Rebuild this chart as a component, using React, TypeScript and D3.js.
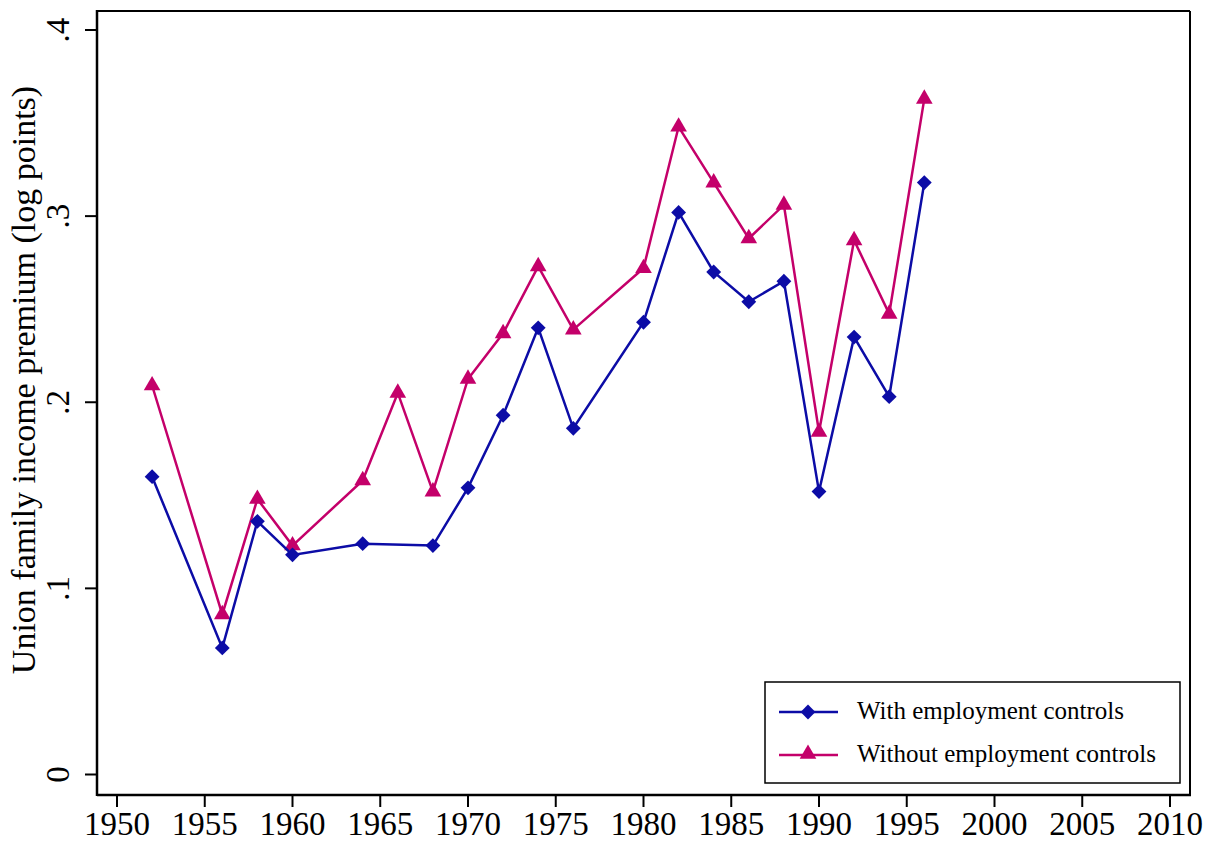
import React, { useRef, useEffect } from "react"
import * as d3 from "d3"

const withYears = [1952, 1956, 1958, 1960, 1964, 1968, 1970, 1972, 1974, 1976, 1980, 1982, 1984, 1986, 1988, 1990, 1992, 1994, 1996]
const withValues = [0.160, 0.068, 0.136, 0.118, 0.124, 0.123, 0.154, 0.193, 0.240, 0.186, 0.243, 0.302, 0.270, 0.254, 0.265, 0.152, 0.235, 0.203, 0.318]

const withoutYears = [1952, 1956, 1958, 1960, 1964, 1966, 1968, 1970, 1972, 1974, 1976, 1980, 1982, 1984, 1986, 1988, 1990, 1992, 1994, 1996]
const withoutValues = [0.209, 0.086, 0.148, 0.123, 0.158, 0.205, 0.152, 0.2125, 0.237, 0.273, 0.239, 0.272, 0.348, 0.318, 0.288, 0.306, 0.184, 0.287, 0.2475, 0.363]

const xTicks = [1950, 1955, 1960, 1965, 1970, 1975, 1980, 1985, 1990, 1995, 2000, 2005, 2010]
const yTicks = [0, 0.1, 0.2, 0.3, 0.4]
const yTickLabels = ["0", ".1", ".2", ".3", ".4"]

const seriesNames = ["With employment controls", "Without employment controls"]

const BLUE = "#0C0CA6"
const PINK = "#C4006A"
const FONT = "'Liberation Serif', 'Times New Roman', serif"

const W = 1205
const H = 841
const frame = { left: 97, top: 11, right: 1190, bottom: 795 }

function App() {
  const ref = useRef<SVGSVGElement>(null)

  useEffect(() => {
    const svg = d3.select(ref.current)
    svg.selectAll("*").remove()

    const x = d3.scaleLinear().domain([1950, 2010]).range([117, 1170])
    const y = d3.scaleLinear().domain([0, 0.4]).range([774.5, 30])

    // frame: thin top/right, heavier left/bottom axes
    svg.append("line")
      .attr("x1", frame.left).attr("x2", frame.right)
      .attr("y1", frame.top).attr("y2", frame.top)
      .attr("stroke", "#000").attr("stroke-width", 2)
    svg.append("line")
      .attr("x1", frame.right).attr("x2", frame.right)
      .attr("y1", frame.top).attr("y2", frame.bottom)
      .attr("stroke", "#000").attr("stroke-width", 2)

    // x axis
    const xg = svg.append("g")
    xg.append("line")
      .attr("x1", frame.left).attr("x2", frame.right + 1)
      .attr("y1", frame.bottom).attr("y2", frame.bottom)
      .attr("stroke", "#000").attr("stroke-width", 2.5)
    xg.selectAll("line.tick")
      .data(xTicks)
      .join("line")
      .attr("class", "tick")
      .attr("x1", d => x(d)).attr("x2", d => x(d))
      .attr("y1", frame.bottom).attr("y2", frame.bottom + 12)
      .attr("stroke", "#000").attr("stroke-width", 2)
    xg.selectAll("text")
      .data(xTicks)
      .join("text")
      .attr("x", d => x(d))
      .attr("y", 835)
      .attr("text-anchor", "middle")
      .style("font-family", FONT)
      .style("font-size", "33px")
      .text(d => d)

    // y axis
    const yg = svg.append("g")
    yg.append("line")
      .attr("x1", frame.left).attr("x2", frame.left)
      .attr("y1", frame.top - 1).attr("y2", frame.bottom + 1)
      .attr("stroke", "#000").attr("stroke-width", 2.5)
    yg.selectAll("line.tick")
      .data(yTicks)
      .join("line")
      .attr("class", "tick")
      .attr("x1", frame.left - 12).attr("x2", frame.left)
      .attr("y1", d => y(d)).attr("y2", d => y(d))
      .attr("stroke", "#000").attr("stroke-width", 2)
    yg.selectAll("text")
      .data(yTicks)
      .join("text")
      .attr("transform", d => `translate(69, ${y(d)}) rotate(-90)`)
      .attr("text-anchor", "middle")
      .style("font-family", FONT)
      .style("font-size", "33px")
      .text((d, i) => yTickLabels[i])

    svg.append("text")
      .attr("transform", `translate(35, ${380}) rotate(-90)`)
      .attr("text-anchor", "middle")
      .style("font-family", FONT)
      .style("font-size", "34px")
      .text("Union family income premium (log points)")

    const line = d3.line<[number, number]>()
      .x(d => x(d[0]))
      .y(d => y(d[1]))

    const withData: [number, number][] = withYears.map((yr, i) => [yr, withValues[i]])
    const withoutData: [number, number][] = withoutYears.map((yr, i) => [yr, withoutValues[i]])

    const diamond = d3.symbol().type(d3.symbolSquare).size(110)
    const triangle = d3.symbol().type(d3.symbolTriangle).size(120)

    const plot = svg.append("g")

    plot.append("path")
      .datum(withoutData)
      .attr("d", line)
      .attr("fill", "none")
      .attr("stroke", PINK)
      .attr("stroke-width", 2.5)
    plot.selectAll("path.tri")
      .data(withoutData)
      .join("path")
      .attr("class", "tri")
      .attr("d", triangle)
      .attr("transform", d => `translate(${x(d[0])}, ${y(d[1])})`)
      .attr("fill", PINK)

    plot.append("path")
      .datum(withData)
      .attr("d", line)
      .attr("fill", "none")
      .attr("stroke", BLUE)
      .attr("stroke-width", 2.5)
    plot.selectAll("path.dia")
      .data(withData)
      .join("path")
      .attr("class", "dia")
      .attr("d", diamond)
      .attr("transform", d => `translate(${x(d[0])}, ${y(d[1])}) rotate(45)`)
      .attr("fill", BLUE)

    // legend
    const lg = svg.append("g")
    lg.append("rect")
      .attr("x", 765).attr("y", 682)
      .attr("width", 415).attr("height", 101)
      .attr("fill", "#fff")
      .attr("stroke", "#000").attr("stroke-width", 1.5)
    const legendRows = [
      { name: seriesNames[0], color: BLUE, sym: diamond, rot: 45, dy: 0 },
      { name: seriesNames[1], color: PINK, sym: triangle, rot: 0, dy: -1 },
    ]
    const rowY = [712, 755]
    legendRows.forEach((r, i) => {
      lg.append("line")
        .attr("x1", 779).attr("x2", 838)
        .attr("y1", rowY[i]).attr("y2", rowY[i])
        .attr("stroke", r.color).attr("stroke-width", 2.5)
      lg.append("path")
        .attr("d", r.sym)
        .attr("transform", `translate(808, ${rowY[i] + r.dy}) rotate(${r.rot})`)
        .attr("fill", r.color)
      lg.append("text")
        .attr("x", 857).attr("y", rowY[i] + 7)
        .style("font-family", FONT)
        .style("font-size", "25px")
        .text(r.name)
    })
  }, [])

  return (
    <svg
      ref={ref}
      width={W}
      height={H}
      style={{ position: "absolute", left: 0, top: 0, background: "#fff" }}
    ></svg>
  )
}

export default App
